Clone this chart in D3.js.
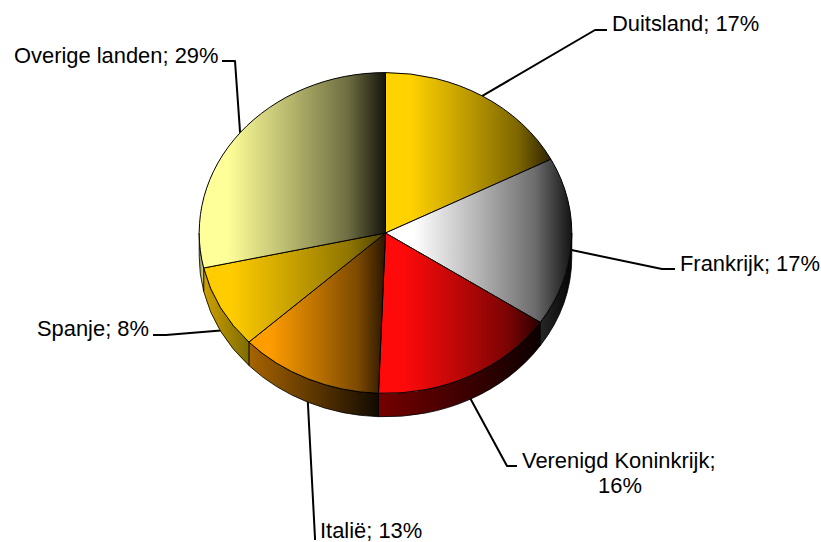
<!DOCTYPE html>
<html><head><meta charset="utf-8">
<script src="https://cdn.jsdelivr.net/npm/d3@7"></script>
<style>html,body{margin:0;padding:0;background:#fff}svg{display:block}text{font-family:"Liberation Sans",Arial,sans-serif;font-size:21.9px;fill:#000}</style>
</head><body><svg id="c" width="821" height="542"></svg>
<script>
const categories = ["Duitsland","Frankrijk","Verenigd Koninkrijk","Italië","Spanje","Overige landen"];
const values = [17.4,17.0,16.2,12.5,8.4,28.5];
const percentLabels = ["17%","17%","16%","13%","8%","29%"];
const topColors = [["#ffd200","#2e2300"],["#ffffff","#141414"],["#ff0a0a","#2a0000"],["#ff9c00","#2a1600"],["#ffcc00","#4a4000"],["#ffff99","#14140c"]];
const wallColors = [["#000","#000"],["#262626","#060606"],["#750000","#0c0000"],["#a86400","#120a00"],["#cfa000","#7d6c00"],["#8f8f58","#d8d88c"]];

const cx=385.5, cy=233, rx=186.3, ry=160.4, depth=23.4;
const svg=d3.select("#c"), defs=svg.append("defs");
const arcs=d3.pie().sort(null).value(d=>d)(values);
const pt=(a,dy=0)=>[cx+rx*Math.sin(a),cy-ry*Math.cos(a)+dy];

function grad(id,c,stops){
  const g=defs.append("linearGradient").attr("id",id).attr("x1",0).attr("x2",1).attr("y1",0).attr("y2",0);
  const mix=d3.interpolateRgb(c[0],c[1]);
  stops.forEach(s=>g.append("stop").attr("offset",s[0]).attr("stop-color",mix(s[1])));
}
const topStops=[[0.15,0],[0.5,0.32],[0.8,0.62],[1,1]];
const wallStops=[[0,0],[1,1]];
topColors.forEach((c,i)=>grad("t"+i,c,topStops));
wallColors.forEach((c,i)=>grad("w"+i,c,wallStops));

const leaderLayout=[
 {elbow:[595,30],end:[607,30],dy:0,tx:612,ty:31},
 {elbow:[662,269],end:[675,269],dy:8,tx:680,ty:271},
 {elbow:[507,466],end:[517,466],dy:22,tx:522,ty:468,wrap:true},
 {elbow:[315,538],end:[315,540],dy:22,tx:320,ty:538},
 {elbow:[166,335],end:[153,335],dy:23,tx:37,ty:336},
 {elbow:[235,61],end:[222,61],dy:0,tx:14,ty:63}
];
const leaders=svg.append("g");
arcs.forEach((d,i)=>{
  const m=(d.startAngle+d.endAngle)/2, L=leaderLayout[i];
  leaders.append("polyline").attr("points",[pt(m,L.dy),L.elbow,L.end].map(p=>p.join(",")).join(" "))
    .attr("fill","none").attr("stroke","#000").attr("stroke-width",2).attr("stroke-linejoin","round");
});

const walls=svg.append("g");
arcs.forEach((d,i)=>{
  const a=Math.max(d.startAngle,Math.PI/2), b=Math.min(d.endAngle,3*Math.PI/2);
  if(b<=a) return;
  const p0=pt(a),p1=pt(b),q1=pt(b,depth),q0=pt(a,depth);
  walls.append("path")
   .attr("d",`M${p0}A${rx},${ry} 0 0 1 ${p1}L${q1}A${rx},${ry} 0 0 0 ${q0}Z`)
   .attr("fill",`url(#w${i})`).attr("stroke","#000").attr("stroke-width",0.8);
});

const arc=d3.arc().innerRadius(0).outerRadius(rx);
svg.append("g").attr("transform",`translate(${cx},${cy}) scale(1,${ry/rx})`)
 .selectAll("path").data(arcs).join("path")
 .attr("d",arc).attr("fill",(d,i)=>`url(#t${i})`)
 .attr("stroke","#000").attr("stroke-width",1).attr("vector-effect","non-scaling-stroke");

const labels=svg.append("g");
categories.forEach((c,i)=>{
  const L=leaderLayout[i];
  if(L.wrap){
    labels.append("text").attr("x",L.tx).attr("y",L.ty).text(c+";");
    labels.append("text").attr("x",620).attr("y",L.ty+25).attr("text-anchor","middle").text(percentLabels[i]);
  } else {
    labels.append("text").attr("x",L.tx).attr("y",L.ty).text(c+"; "+percentLabels[i]);
  }
});
</script></body></html>
